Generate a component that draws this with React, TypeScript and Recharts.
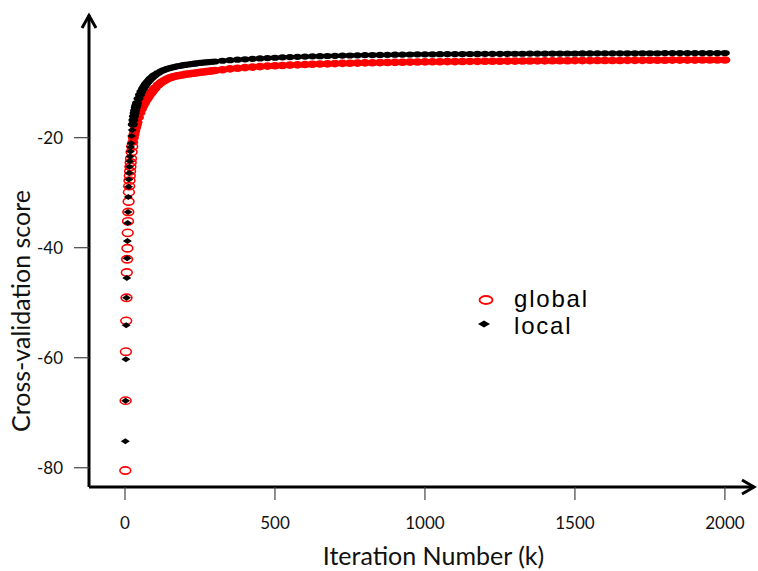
import React from 'react';
import { ScatterChart, Scatter, XAxis, YAxis, Legend } from 'recharts';

const iterations = [
  1, 2, 3, 4, 5, 6, 7, 8, 9, 10, 11, 12, 13, 14, 15, 16, 17, 18, 19, 20,
  22, 24, 26, 28, 30, 32, 34, 36, 38, 40,
  45, 50, 55, 60, 65, 70, 75, 80, 85, 90, 95, 100,
  110, 120, 130, 140, 150, 160, 170, 180, 190, 200, 210, 220, 230, 240, 250, 260, 270, 280, 290, 300,
  325, 350, 375, 400, 425, 450, 475, 500, 525, 550,
  575, 600, 625, 650, 675, 700, 725, 750, 775, 800,
  825, 850, 875, 900, 925, 950, 975, 1000, 1025, 1050,
  1075, 1100, 1125, 1150, 1175, 1200, 1225, 1250, 1275, 1300,
  1325, 1350, 1375, 1400, 1425, 1450, 1475, 1500, 1525, 1550,
  1575, 1600, 1625, 1650, 1675, 1700, 1725, 1750, 1775, 1800,
  1825, 1850, 1875, 1900, 1925, 1950, 1975, 2000,
];

const globalScore = [
  -80.5, -67.8, -58.9, -53.3, -49.1, -44.5, -42.1, -40.1, -37.3, -35.2, -33.5, -31.6, -29.9, -28.8, -27.8, -26.9, -26.1, -25.3, -24.5, -23.8,
  -22.6, -21.6, -20.8, -20.0, -19.4, -18.9, -18.4, -18.0, -17.6, -17.2,
  -16.3, -15.5, -14.8, -14.2, -13.7, -13.2, -12.8, -12.4, -12.0, -11.65, -11.3, -11.0,
  -10.45, -10.0, -9.65, -9.35, -9.1, -8.95, -8.8, -8.7, -8.6, -8.5, -8.42, -8.35, -8.28, -8.2, -8.13, -8.07, -8.0, -7.93, -7.86, -7.8,
  -7.65, -7.5, -7.38, -7.27, -7.17, -7.08, -7.0, -6.93, -6.87, -6.81,
  -6.76, -6.71, -6.66, -6.62, -6.58, -6.54, -6.5, -6.47, -6.44, -6.41,
  -6.38, -6.35, -6.33, -6.31, -6.29, -6.27, -6.25, -6.23, -6.21, -6.2,
  -6.18, -6.17, -6.15, -6.14, -6.13, -6.12, -6.11, -6.1, -6.09, -6.08,
  -6.07, -6.06, -6.05, -6.04, -6.03, -6.02, -6.01, -6.0, -5.99, -5.99,
  -5.98, -5.97, -5.96, -5.96, -5.95, -5.94, -5.94, -5.93, -5.92, -5.92,
  -5.91, -5.91, -5.9, -5.9, -5.89, -5.89, -5.88, -5.88,
];

const localScore = [
  -75.2, -67.8, -60.3, -54.1, -49.1, -45.5, -41.9, -38.8, -35.5, -33.5, -30.8, -28.9, -27.6, -26.4, -25.3, -24.3, -23.4, -22.5, -21.7, -21.0,
  -19.7, -18.6, -17.6, -16.8, -16.1, -15.5, -15.0, -14.5, -14.1, -13.7,
  -12.9, -12.2, -11.6, -11.1, -10.65, -10.25, -9.9, -9.6, -9.3, -9.05, -8.8, -8.6,
  -8.25, -7.95, -7.7, -7.5, -7.35, -7.2, -7.08, -6.97, -6.87, -6.78, -6.7, -6.62, -6.55, -6.48, -6.42, -6.36, -6.3, -6.25, -6.2, -6.15,
  -6.02, -5.92, -5.83, -5.75, -5.67, -5.6, -5.53, -5.47, -5.41, -5.36,
  -5.31, -5.27, -5.23, -5.19, -5.15, -5.12, -5.09, -5.06, -5.03, -5.0,
  -4.98, -4.96, -4.94, -4.92, -4.9, -4.88, -4.86, -4.85, -4.84, -4.83,
  -4.82, -4.81, -4.8, -4.79, -4.78, -4.77, -4.76, -4.76, -4.75, -4.74,
  -4.74, -4.73, -4.72, -4.72, -4.71, -4.71, -4.7, -4.7, -4.69, -4.69,
  -4.68, -4.68, -4.67, -4.67, -4.66, -4.66, -4.65, -4.65, -4.65, -4.64,
  -4.64, -4.63, -4.63, -4.63, -4.62, -4.62, -4.62, -4.61,
];

const xTicks = [0, 500, 1000, 1500, 2000];
const yTicks = [-80, -60, -40, -20];
const seriesNames = ['global', 'local'];

const globalData = iterations.map((k, i) => ({ k, score: globalScore[i] }));
const localData = iterations.map((k, i) => ({ k, score: localScore[i] }));

const RED = '#ff0000';
const BLACK = '#000000';
const TEXT_FONT = 'Lato, "Open Sans", sans-serif';
const LEGEND_FONT = '"Liberation Sans", Arial, sans-serif';

const GlobalMarker = (props: any) => {
  const { cx, cy, payload } = props;
  if (cx == null || cy == null) return <g />;
  if (payload.k <= 24) {
    return <ellipse cx={cx} cy={cy} rx={5.4} ry={3.6} fill="none" stroke={RED} strokeWidth={1.6} />;
  }
  return <ellipse cx={cx} cy={cy} rx={5.5} ry={3.8} fill={RED} />;
};

const LocalMarker = (props: any) => {
  const { cx, cy, payload } = props;
  if (cx == null || cy == null) return <g />;
  if (payload.k <= 24) {
    return (
      <polygon
        points={`${cx - 4.5},${cy} ${cx},${cy - 3} ${cx + 4.5},${cy} ${cx},${cy + 3}`}
        fill={BLACK}
      />
    );
  }
  return <ellipse cx={cx} cy={cy} rx={5} ry={3.1} fill={BLACK} />;
};

const XTitle = (props: any) => {
  const vb = props.viewBox || { x: 0, y: 0, width: 0, height: 0 };
  return (
    <text
      x={vb.x + vb.width / 2 + 12}
      y={vb.y + 68}
      textAnchor="middle"
      dominantBaseline="central"
      fontFamily={TEXT_FONT}
      fontSize={25}
      fill="#111"
    >
      Iteration Number (k)
    </text>
  );
};

const YTitle = (props: any) => {
  const vb = props.viewBox || { x: 0, y: 0, width: 0, height: 0 };
  const x = vb.x + 20;
  const y = vb.y + vb.height / 2 + 60;
  return (
    <text
      x={x}
      y={y}
      transform={`rotate(-90, ${x}, ${y})`}
      textAnchor="middle"
      dominantBaseline="central"
      fontFamily={TEXT_FONT}
      fontSize={25}
      fill="#111"
    >
      Cross-validation score
    </text>
  );
};

const LegendContent = () => (
  <svg width={150} height={56} style={{ display: 'block', overflow: 'visible' }}>
    <ellipse cx={16} cy={14} rx={6.5} ry={4} fill="none" stroke={RED} strokeWidth={1.8} />
    <text x={44} y={12} dominantBaseline="central" fontFamily={LEGEND_FONT} fontSize={24} letterSpacing={1.8} fill="#000">
      {seriesNames[0]}
    </text>
    <polygon points="8,38 14,34.5 20,38 14,41.5" fill={BLACK} />
    <text x={44} y={39} dominantBaseline="central" fontFamily={LEGEND_FONT} fontSize={24} letterSpacing={1.8} fill="#000">
      {seriesNames[1]}
    </text>
  </svg>
);

export default function App() {
  return (
    <div style={{ position: 'absolute', left: 0, top: 0, width: 758, height: 571, background: '#fff' }}>
      <ScatterChart width={758} height={571} margin={{ top: 15, right: 4, bottom: 0, left: 0 }}>
        <XAxis
          type="number"
          dataKey="k"
          domain={[-120, 2097]}
          ticks={xTicks}
          allowDataOverflow
          height={84}
          tickSize={13}
          tickMargin={17}
          axisLine={{ stroke: '#000', strokeWidth: 3 }}
          tickLine={{ stroke: '#444', strokeWidth: 1.2 }}
          tick={{ fill: '#111', fontSize: 17, fontFamily: TEXT_FONT }}
          label={<XTitle />}
        />
        <YAxis
          type="number"
          dataKey="score"
          domain={[-83.5, 2.3]}
          ticks={yTicks}
          allowDataOverflow
          width={89}
          tickSize={15}
          tickMargin={11}
          axisLine={{ stroke: '#000', strokeWidth: 3 }}
          tickLine={{ stroke: '#444', strokeWidth: 1.2 }}
          tick={{ fill: '#111', fontSize: 17, fontFamily: TEXT_FONT }}
          label={<YTitle />}
        />
        <Legend
          layout="vertical"
          align="center"
          verticalAlign="middle"
          content={<LegendContent />}
          wrapperStyle={{ left: 470, top: 286, width: 150, height: 56 }}
        />
        <Scatter name={seriesNames[0]} data={globalData} shape={<GlobalMarker />} isAnimationActive={false} />
        <Scatter name={seriesNames[1]} data={localData} shape={<LocalMarker />} isAnimationActive={false} />
      </ScatterChart>
      <svg
        width={758}
        height={571}
        style={{ position: 'absolute', left: 0, top: 0, pointerEvents: 'none' }}
      >
        <polyline points="82,28 89,15.5 96,28" fill="none" stroke="#000" strokeWidth={3} strokeLinejoin="miter" />
        <polyline points="742,480 754,487 742,494" fill="none" stroke="#000" strokeWidth={3} strokeLinejoin="miter" />
      </svg>
    </div>
  );
}
